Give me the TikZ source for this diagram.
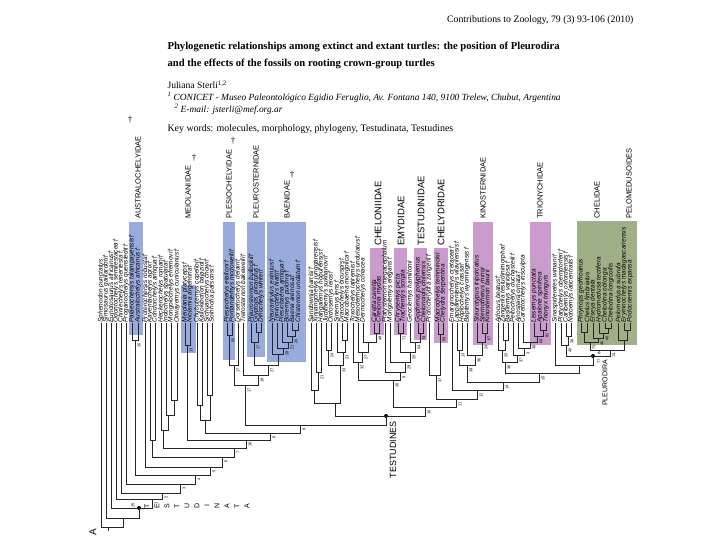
\documentclass[tikz,border=0pt]{standalone}
\usepackage{fontspec}
\setmainfont{Liberation Serif}
\setsansfont{Liberation Sans}
\definecolor{famblue}{RGB}{153,171,221}
\definecolor{fampink}{RGB}{201,156,205}
\definecolor{famgreen}{RGB}{160,176,134}
\tikzset{
  taxon/.style={rotate=90, anchor=west, inner sep=0.4pt, font=\sffamily\itshape\fontsize{6.5}{7}\selectfont},
  family/.style={rotate=90, anchor=west, inner sep=0pt, font=\sffamily\fontsize{7.5}{8}\selectfont},
  crownfam/.style={rotate=90, anchor=west, inner sep=0pt, font=\sffamily\fontsize{9.5}{10}\selectfont},
  clade/.style={rotate=90, anchor=east, inner sep=0pt, font=\sffamily\fontsize{9}{10}\selectfont},
  num/.style={rotate=90, inner sep=0pt, font=\sffamily\fontsize{4}{4}\selectfont},
  extinct/.style={inner sep=0pt, font=\fontsize{9}{9}\selectfont},
  dot/.style={circle, fill=black, inner sep=0pt, minimum size=4pt},
  branch/.style={line width=0.6pt, black!85}
}
\begin{document}
\begin{tikzpicture}[x=1pt,y=-1pt]
\useasboundingbox[fill=white] (0,0) rectangle (720,540);

% heading
\node[anchor=east, font=\fontsize{9.8}{10}\selectfont] (JOURNAL) at (637,20) {Contributions to Zoology, 79 (3) 93-106 (2010)};
\node[anchor=north west, align=left, font=\bfseries\fontsize{10.65}{17}\selectfont] (TITLE) at (164,38) {Phylogenetic relationships among extinct and extant turtles: the position of Pleurodira\\and the effects of the fossils on rooting crown-group turtles};
\node[anchor=west, font=\fontsize{9.6}{10}\selectfont] (AUTHOR) at (164,85) {Juliana Sterli\textsuperscript{1,2}};
\node[anchor=west, font=\itshape\fontsize{9.4}{10}\selectfont] (AFFIL) at (164,97) {\textsuperscript{1} CONICET - Museo Paleontológico Egidio Feruglio, Av. Fontana 140, 9100 Trelew, Chubut, Argentina};
\node[anchor=west, font=\itshape\fontsize{9.4}{10}\selectfont] (MAIL) at (171,109) {\textsuperscript{2} E-mail: jsterli@mef.org.ar};
\node[anchor=west, font=\fontsize{9.9}{10}\selectfont] (KEYS) at (164,129) {Key words: molecules, morphology, phylogeny, Testudinata, Testudines};

% family boxes
\fill[famblue] (129,222) rectangle (143,335);
\fill[famblue] (181,285) rectangle (196,353);
\fill[famblue] (223,222) rectangle (235,360);
\fill[famblue] (247,222) rectangle (265,357);
\fill[famblue] (267,222) rectangle (306,362);
\fill[fampink] (370,248) rectangle (384,335);
\fill[fampink] (394,248) rectangle (407,335);
\fill[fampink] (414,248) rectangle (427,340);
\fill[fampink] (434,248) rectangle (448,343);
\fill[fampink] (473,222) rectangle (493,345);
\fill[fampink] (530,222) rectangle (551,345);
\fill[famgreen] (577,221) rectangle (637,345);

\node[family] (AUSTRALO) at (138,219) {AUSTRALOCHELYIDAE};
\node[family] (MEIOLAN) at (188,219) {MEIOLANIIDAE};
\node[family] (PLESIO) at (229,219) {PLESIOCHELYIDAE};
\node[family] (PLEUROS) at (256,219) {PLEUROSTERNIDAE};
\node[family] (BAENID) at (287,219) {BAENIDAE};
\node[crownfam] (CHELONI) at (378,246) {CHELONIIDAE};
\node[crownfam] (EMYDID) at (401,246) {EMYDIDAE};
\node[crownfam] (TESTUD) at (421,246) {TESTUDINIDAE};
\node[crownfam] (CHELYD) at (441,246) {CHELYDRIDAE};
\node[family] (KINOST) at (483,219) {KINOSTERNIDAE};
\node[family] (TRIONY) at (540,219) {TRIONYCHIDAE};
\node[family] (CHELID) at (597,219) {CHELIDAE};
\node[family] (PELOMED) at (629,219) {PELOMEDUSOIDES};
\node[extinct] (XAUS) at (130,120) {†};
\node[extinct] (XMEI) at (194,158) {†};
\node[extinct] (XPLE) at (233,141) {†};
\node[extinct] (XBAE) at (292,175) {†};

% terminal taxa
\node[taxon] (SPHE) at (101,323) {Sphenodon punctatus};
\node[taxon] (SIMO) at (106,323) {Simosaurus gaillardoti†};
\node[taxon] (EUNO) at (111,323) {Eunotosaurus africanus†};
\node[taxon] (ODON) at (116,323) {Odontochelys semitestacea†};
\node[taxon] (CHIN) at (121,323) {Chinlechelys tenertesta†};
\node[taxon] (PROG) at (126,323) {Proganochelys quenstedti†};
\node[taxon] (PALA) at (132,323) {Palaeochersis talampayensis†};
\node[taxon] (AUST) at (138,323) {Australochelys africanus†};
\node[taxon] (PROT) at (145,323) {Proterochersis robusta†};
\node[taxon] (KAYE) at (150,323) {Kayentachelys aprix†};
\node[taxon] (COND) at (155,323) {Condorchelys antiqua†};
\node[taxon] (HECK) at (161,323) {Heckerochelys romani†};
\node[taxon] (INDO) at (166,323) {Indochelys spatulata†};
\node[taxon] (MONG) at (171,323) {Mongolochelys efremovi†};
\node[taxon] (OTWA) at (177,323) {Otwayemys cunicularius†};
\node[taxon] (MEIO) at (185,323) {Meiolania platyceps†};
\node[taxon] (NIOL) at (190,323) {Niolamia argentina†};
\node[taxon] (CHUB) at (197,323) {Chubutemys copelloi†};
\node[taxon] (KALL) at (202,323) {Kallokibotion bajazidi†};
\node[taxon] (SICH) at (207,323) {Sichuanchelys chowi†};
\node[taxon] (SOLN) at (212,323) {Solnhofia parsonsi†};
\node[taxon] (PLES) at (227,323) {Plesiochelys etalloni†};
\node[taxon] (PORT) at (232,323) {Portlandemys mcdowelli†};
\node[taxon] (DORS) at (238,323) {Dorsetochelys delairi†};
\node[taxon] (TRET) at (243,323) {Tretosternon bakewelli†};
\node[taxon] (PLEU) at (251,323) {Pleurosternon bullockii†};
\node[taxon] (GLYP) at (256,323) {Glyptops plicatulus†};
\node[taxon] (DINO) at (261,323) {Dinochelys whitei†};
\node[taxon] (NEUR) at (272,323) {Neurankylus eximius†};
\node[taxon] (TRIN) at (277,323) {Trinitichelys hiatti†};
\node[taxon] (PLBA) at (282,323) {Plesiobaena antiqua†};
\node[taxon] (BORE) at (287,323) {Boremys pulchra†};
\node[taxon] (BAEN) at (292,323) {Baena arenosa†};
\node[taxon] (CHIS) at (298,323) {Chisternon undatum†};
\node[taxon] (SAND) at (311,323) {Sandownia harrisi†};
\node[taxon] (XINJ) at (316,323) {Xinjiangchelys junggarensis†};
\node[taxon] (HANG) at (321,323) {Hangaiemys hoburensis†};
\node[taxon] (JUDI) at (326,323) {Judithemys sukhanovi†};
\node[taxon] (ORDO) at (331,323) {Ordosemys leios†};
\node[taxon] (SINE) at (337,323) {Sinemys lens†};
\node[taxon] (DRAC) at (342,323) {Dracochelys bicuspis†};
\node[taxon] (MACB) at (347,323) {Macrobaena mongolica†};
\node[taxon] (TOXO) at (353,323) {Toxochelys latiremis†};
\node[taxon] (MESO) at (358,323) {Mesodermochelys undulatus†};
\node[taxon] (DERM) at (363,323) {Dermochelys coriacea};
\node[taxon] (CARE) at (374,323) {Caretta caretta};
\node[taxon] (CHMY) at (379,323) {Chelonia mydas};
\node[taxon] (PLAT) at (385,323) {Platysternon megacephalum};
\node[taxon] (MOEL) at (390,323) {Mongolemys elegans†};
\node[taxon] (CHRY) at (398,323) {Chrysemys picta};
\node[taxon] (TRAC) at (403,323) {Trachemys scripta};
\node[taxon] (GEOC) at (410,323) {Geoclemys hamiltonii};
\node[taxon] (GOPH) at (418,323) {Gopherus polyphemus};
\node[taxon] (CHIL) at (423,323) {Chelonoidis chilensis};
\node[taxon] (PROC) at (429,323) {Protochelydra zangerli†};
\node[taxon] (MACR) at (438,323) {Macrochelys temminckii};
\node[taxon] (CHSE) at (443,323) {Chelydra serpentina};
\node[taxon] (EMAR) at (452,323) {Emarginochelys cretacea†};
\node[taxon] (LAPP) at (457,323) {Lapparentemys vilavilensis†};
\node[taxon] (HOPL) at (462,323) {Hoplochelys crassa†};
\node[taxon] (BAPT) at (467,323) {Baptemys wyomingensis†};
\node[taxon] (STAU) at (477,323) {Staurotypus triporcatus};
\node[taxon] (STER) at (482,323) {Sternotherus minor};
\node[taxon] (KINO) at (487,323) {Kinosternon baurii};
\node[taxon] (ADOC) at (498,323) {Adocus beatus†};
\node[taxon] (ZANG) at (503,323) {Zangerlia testudinimorpha†};
\node[taxon] (BASI) at (508,323) {Basilemys variolosa†};
\node[taxon] (PELT) at (513,323) {Peltochelys duchastelii†};
\node[taxon] (ANOS) at (518,323) {Anosteira ornata†};
\node[taxon] (CARP) at (523,323) {Carettochelys insculpta};
\node[taxon] (LISS) at (534,323) {Lissemys punctata};
\node[taxon] (APAL) at (540,323) {Apalone spinifera};
\node[taxon] (TRIO) at (546,323) {Trionyx triunguis};
\node[taxon] (SINA) at (555,323) {Sinaspideretes wimani†};
\node[taxon] (PLTY) at (561,323) {Platychelys oberndorferi†};
\node[taxon] (CARI) at (566,323) {Caribemys oxfordiensis†};
\node[taxon] (NOTO) at (571,323) {Notoemys laticentralis†};
\node[taxon] (PHRY) at (581,323) {Phrynops geoffroanus};
\node[taxon] (CHFI) at (587,323) {Chelus fimbriatus};
\node[taxon] (ELSE) at (593,323) {Elseya dentata};
\node[taxon] (HYDR) at (599,323) {Hydromedusa tectifera};
\node[taxon] (CHOB) at (605,323) {Chelodina oblonga};
\node[taxon] (CHLO) at (611,323) {Chelodina longicollis};
\node[taxon] (PELO) at (618,323) {Pelomedusa subrufa};
\node[taxon] (ERYM) at (624,323) {Erymnochelys madagascariensis};
\node[taxon] (PODO) at (630,323) {Podocnemis expansa};

% internal nodes
\coordinate (R1) at (108,527);
\coordinate (R2) at (123,518);
\node[dot] (TUDA) at (139,508) {};
\coordinate (R4) at (152,499);
\coordinate (R5) at (162,493);
\coordinate (R6) at (180,484);
\coordinate (R7) at (195,475);
\coordinate (AUSN) at (135,340);
\coordinate (R8) at (210,467);
\coordinate (R9) at (222,457);
\coordinate (KC) at (152,440);
\coordinate (R10) at (234,448);
\coordinate (HIM) at (163,430);
\coordinate (IM) at (168,415);
\coordinate (MO) at (174,400);
\coordinate (R11) at (246,440);
\coordinate (MEIN) at (187,345);
\coordinate (R12) at (270,433);
\coordinate (CKS) at (205,420);
\coordinate (CK1) at (200,405);
\coordinate (CK2) at (210,395);
\coordinate (R13) at (300,425);
\coordinate (PARA) at (245,385);
\coordinate (PLN) at (234,365);
\coordinate (PLE) at (229,335);
\coordinate (PB) at (258,375);
\coordinate (PB2) at (268,365);
\coordinate (PLUN) at (254,342);
\coordinate (GD) at (258,332);
\coordinate (BAN) at (278,354);
\coordinate (B2) at (283,348);
\coordinate (B3) at (288,342);
\coordinate (B4) at (292,336);
\coordinate (B5) at (295,330);
\node[dot] (TUDS) at (386,416) {};
\coordinate (XS) at (335,403);
\coordinate (SXH) at (314,390);
\coordinate (XH) at (318,372);
\coordinate (SJ) at (340,365);
\coordinate (JO) at (328,350);
\coordinate (SD) at (343,352);
\coordinate (DM) at (345,340);
\coordinate (BB) at (425,407);
\coordinate (CHG) at (393,380);
\coordinate (CH1) at (358,362);
\coordinate (CH2) at (362,352);
\coordinate (CH3) at (368,342);
\coordinate (CHN) at (376,333);
\coordinate (EMG) at (400,372);
\coordinate (EG) at (405,362);
\coordinate (EG2) at (410,352);
\coordinate (EMY) at (400,333);
\coordinate (TG) at (415,342);
\coordinate (TES) at (420,333);
\coordinate (CC) at (456,399);
\coordinate (CY) at (436,375);
\coordinate (CYD) at (440,334);
\coordinate (EE) at (477,390);
\coordinate (FF) at (503,382);
\coordinate (KG) at (467,365);
\coordinate (LH) at (459,350);
\coordinate (KB) at (475,355);
\coordinate (KIN) at (482,342);
\coordinate (SK) at (485,333);
\coordinate (GG) at (539,373);
\coordinate (TRG) at (505,362);
\coordinate (AZB) at (502,350);
\coordinate (ZB) at (505,340);
\coordinate (TR2) at (517,355);
\coordinate (TR3) at (524,348);
\coordinate (TR4) at (530,342);
\coordinate (TRI) at (537,336);
\coordinate (AT) at (543,330);
\coordinate (PLG) at (579,365);
\node[dot] (PLD) at (593,356) {};
\coordinate (PS) at (566,345);
\coordinate (PC) at (568,336);
\coordinate (PD) at (610,350);
\coordinate (CLD) at (590,342);
\coordinate (CE1) at (584,332);
\coordinate (CE2) at (598,338);
\coordinate (CE3) at (603,333);
\coordinate (CHO) at (608,328);
\coordinate (PEL) at (624,340);
\coordinate (PO) at (627,330);

% branches, stem
\draw[branch] (SPHE.west) |- (R1) (R2) |- (R1) (R1) -- ++(0,4);
\draw[branch] (SIMO.west) |- (R2) (TUDA.center) |- (R2);
\draw[branch] (EUNO.west) |- (TUDA.center) (R4) |- (TUDA.center);
\draw[branch] (ODON.west) |- (R4) (R5) |- (R4);
\draw[branch] (CHIN.west) |- (R5) (R6) |- (R5);
\draw[branch] (PROG.west) |- (R6) (R7) |- (R6);
\draw[branch] (PALA.west) |- (AUSN) (AUST.west) |- (AUSN) (AUSN) |- (R7) (R8) |- (R7);
\draw[branch] (PROT.west) |- (R8) (R9) |- (R8);
\draw[branch] (KAYE.west) |- (KC) (COND.west) |- (KC) (KC) |- (R9) (R10) |- (R9);
\draw[branch] (HECK.west) |- (HIM) (IM) |- (HIM) (INDO.west) |- (IM) (MO) |- (IM);
\draw[branch] (MONG.west) |- (MO) (OTWA.west) |- (MO) (HIM) |- (R10) (R11) |- (R10);
\draw[branch] (MEIO.west) |- (MEIN) (NIOL.west) |- (MEIN) (MEIN) |- (R11) (R12) |- (R11);
\draw[branch] (CHUB.west) |- (CK1) (KALL.west) |- (CK1) (SICH.west) |- (CK2) (SOLN.west) |- (CK2);
\draw[branch] (CK1) |- (CKS) (CK2) |- (CKS) (CKS) |- (R12) (R13) |- (R12);
% paracryptodires
\draw[branch] (PLES.west) |- (PLE) (PORT.west) |- (PLE) (PLE) |- (PLN) (DORS.west) |- (PLN);
\draw[branch] (GLYP.west) |- (GD) (DINO.west) |- (GD) (PLEU.west) |- (PLUN) (GD) |- (PLUN);
\draw[branch] (BAEN.west) |- (B5) (CHIS.west) |- (B5) (BORE.west) |- (B4) (B5) |- (B4);
\draw[branch] (PLBA.west) |- (B3) (B4) |- (B3) (TRIN.west) |- (B2) (B3) |- (B2);
\draw[branch] (NEUR.west) |- (BAN) (B2) |- (BAN) (PLUN) |- (PB2) (BAN) |- (PB2);
\draw[branch] (TRET.west) |- (PB) (PB2) |- (PB) (PLN) |- (PARA) (PB) |- (PARA);
\draw[branch] (PARA) |- (R13) (TUDS.center) |- (R13);
% crown
\draw[branch] (XINJ.west) |- (XH) (HANG.west) |- (XH) (SAND.west) |- (SXH) (XH) |- (SXH);
\draw[branch] (JUDI.west) |- (JO) (ORDO.west) |- (JO) (DRAC.west) |- (DM) (MACB.west) |- (DM);
\draw[branch] (SINE.west) |- (SD) (DM) |- (SD) (JO) |- (SJ) (SD) |- (SJ);
\draw[branch] (SXH) |- (XS) (SJ) |- (XS) (XS) |- (TUDS.center) (BB) |- (TUDS.center);
\draw[branch] (CARE.west) |- (CHN) (CHMY.west) |- (CHN) (DERM.west) |- (CH3) (CHN) |- (CH3);
\draw[branch] (MESO.west) |- (CH2) (CH3) |- (CH2) (TOXO.west) |- (CH1) (CH2) |- (CH1);
\draw[branch] (CHRY.west) |- (EMY) (TRAC.west) |- (EMY) (GOPH.west) |- (TES) (CHIL.west) |- (TES);
\draw[branch] (GEOC.west) |- (TG) (TES) |- (TG) (EMY) |- (EG2) (TG) |- (EG2);
\draw[branch] (MOEL.west) |- (EG) (EG2) |- (EG) (PLAT.west) |- (EMG) (EG) |- (EMG);
\draw[branch] (CH1) |- (CHG) (EMG) |- (CHG) (CHG) |- (BB) (CC) |- (BB);
\draw[branch] (MACR.west) |- (CYD) (CHSE.west) |- (CYD) (PROC.west) |- (CY) (CYD) |- (CY);
\draw[branch] (CY) |- (CC) (EE) |- (CC) (EMAR.west) |- (EE) (FF) |- (EE);
\draw[branch] (LAPP.west) |- (LH) (HOPL.west) |- (LH) (STER.west) |- (SK) (KINO.west) |- (SK);
\draw[branch] (STAU.west) |- (KIN) (SK) |- (KIN) (BAPT.west) |- (KB) (KIN) |- (KB);
\draw[branch] (LH) |- (KG) (KB) |- (KG) (KG) |- (FF) (GG) |- (FF);
\draw[branch] (APAL.west) |- (AT) (TRIO.west) |- (AT) (LISS.west) |- (TRI) (AT) |- (TRI);
\draw[branch] (CARP.west) |- (TR4) (TRI) |- (TR4) (ANOS.west) |- (TR3) (TR4) |- (TR3);
\draw[branch] (PELT.west) |- (TR2) (TR3) |- (TR2) (ZANG.west) |- (ZB) (BASI.west) |- (ZB);
\draw[branch] (ADOC.west) |- (AZB) (ZB) |- (AZB) (AZB) |- (TRG) (TR2) |- (TRG);
\draw[branch] (TRG) |- (GG) (PLG) |- (GG) (SINA.west) |- (PLG) (PLD.center) |- (PLG);
% pleurodires
\draw[branch] (CARI.west) |- (PC) (NOTO.west) |- (PC) (PLTY.west) |- (PS) (PC) |- (PS);
\draw[branch] (PHRY.west) |- (CE1) (CHFI.west) |- (CE1) (CHOB.west) |- (CHO) (CHLO.west) |- (CHO);
\draw[branch] (HYDR.west) |- (CE3) (CHO) |- (CE3) (ELSE.west) |- (CE2) (CE3) |- (CE2);
\draw[branch] (CE1) |- (CLD) (CE2) |- (CLD) (ERYM.west) |- (PO) (PODO.west) |- (PO);
\draw[branch] (PELO.west) |- (PEL) (PO) |- (PEL) (CLD) |- (PD) (PEL) |- (PD);
\draw[branch] (PS) |- (PLD.center) (PD) |- (PLD.center);

% clade names
\node[rotate=90, inner sep=0pt, font=\sffamily\fontsize{10}{10}\selectfont] (ROOTA) at (93,532) {A};
\node[rotate=90, align=center, inner sep=0pt, font=\sffamily\fontsize{7}{10}\selectfont] (TUDANAME) at (197,506) {T\\E\\S\\T\\U\\D\\I\\N\\A\\T\\A};
\node[clade] (TUDSNAME) at (393,421) {TESTUDINES};
\node[clade, font=\sffamily\fontsize{7}{8}\selectfont] (PLDNAME) at (605,360) {PLEURODIRA};

% node numbers
\node[num] (nTUDA) at (133,505) {25};
\node[num] (nR4) at (156,503) {1};
\node[num] (nR5) at (166,497) {2};
\node[num] (nR6) at (184,488) {3};
\node[num] (nR7) at (199,479) {4};
\node[num] (nR8) at (214,471) {5};
\node[num] (nR9) at (226,461) {6};
\node[num] (nR10) at (238,452) {7};
\node[num] (nR11) at (250,444) {16};
\node[num] (nR12) at (274,437) {8};
\node[num] (nR13) at (304,429) {9};
\node[num] (nAUSN) at (139,345) {26};
\node[num] (nMEIN) at (191,350) {13};
\node[num] (nPLE) at (233,340) {50};
\node[num] (nPLN) at (238,370) {17};
\node[num] (nPARA) at (249,390) {17};
\node[num] (nPB) at (262,380) {18};
\node[num] (nPB2) at (272,370) {27};
\node[num] (nPLUN) at (258,347) {17};
\node[num] (nB2) at (287,353) {28};
\node[num] (nB3) at (292,347) {21};
\node[num] (nB4) at (296,341) {20};
\node[num] (nXH) at (322,377) {21};
\node[num] (nJO) at (332,355) {24};
\node[num] (nSD) at (347,357) {23};
\node[num] (nSJ) at (344,370) {33};
\node[num] (nCH1) at (362,367) {32};
\node[num] (nCH2) at (366,357) {27};
\node[num] (nCHN) at (380,338) {48};
\node[num] (nCHG) at (397,385) {26};
\node[num] (nEMG) at (404,377) {9};
\node[num] (nEG) at (409,367) {29};
\node[num] (nEG2) at (414,357) {20};
\node[num] (nEMY) at (404,338) {71};
\node[num] (nTG) at (419,347) {54};
\node[num] (nTES) at (424,338) {79};
\node[num] (nBB) at (429,412) {10};
\node[num] (nCY) at (440,380) {37};
\node[num] (nCYD) at (444,339) {89};
\node[num] (nCC) at (460,404) {11};
\node[num] (nEE) at (481,395) {12};
\node[num] (nFF) at (507,387) {14};
\node[num] (nKG) at (471,370) {39};
\node[num] (nLH) at (463,355) {13};
\node[num] (nKB) at (479,360) {36};
\node[num] (nKIN) at (486,347) {24};
\node[num] (nSK) at (489,338) {67};
\node[num] (nGG) at (543,378) {15};
\node[num] (nTRG) at (509,367) {36};
\node[num] (nAZB) at (506,355) {20};
\node[num] (nTR2) at (521,360) {37};
\node[num] (nTR3) at (528,353) {3};
\node[num] (nTR4) at (534,347) {38};
\node[num] (nTRI) at (541,341) {69};
\node[num] (nAT) at (547,335) {82};
\node[num] (nPLD) at (599,361) {77};
\node[num] (nPLD2) at (599,352) {84};
\node[num] (nPS) at (570,350) {40};
\node[num] (nPC) at (572,341) {38};
\node[num] (nCLD) at (594,347) {73};
\node[num] (nCE2) at (602,343) {46};
\node[num] (nCE3) at (607,338) {40};
\node[num] (nPD) at (614,355) {74};
\end{tikzpicture}
\end{document}
